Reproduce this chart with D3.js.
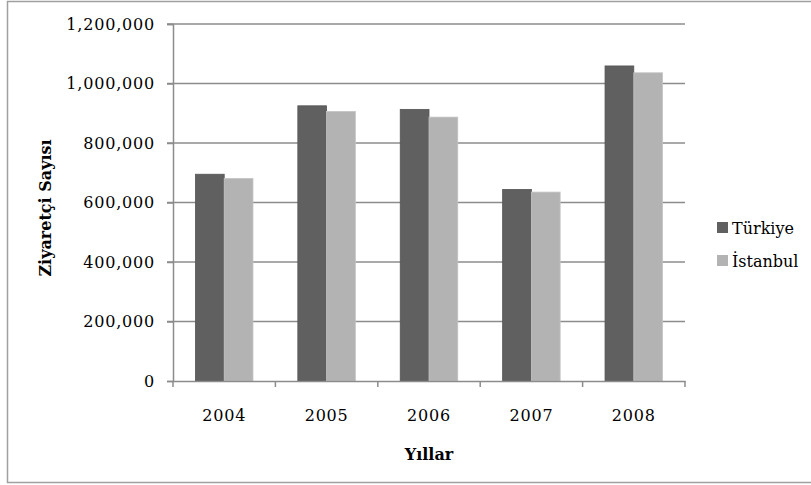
<!DOCTYPE html>
<html>
<head>
<meta charset="utf-8">
<script src="https://cdn.jsdelivr.net/npm/d3@7"></script>
<style>
  body { margin: 0; background: #fff; }
  text { font-family: "DejaVu Serif", serif; fill: #000; }
</style>
</head>
<body>
<div id="chart"></div>
<script>
const years = ['2004', '2005', '2006', '2007', '2008'];
const seriesNames = ['Türkiye', 'İstanbul'];
const turkiye = [695000, 925000, 913000, 644000, 1059000];
const istanbul = [681000, 906000, 887000, 635000, 1036000];
const yTicks = [0, 200000, 400000, 600000, 800000, 1000000, 1200000];
const colours = ['#606060', '#b3b3b3'];

const width = 811;
const height = 485;
const plotLeft = 173, plotRight = 685, plotTop = 24, plotBottom = 381;

const svg = d3.select('#chart')
  .append('svg')
  .attr('width', width)
  .attr('height', height);

// outer frame
svg.append('rect')
  .attr('x', 7.5).attr('y', 1.5)
  .attr('width', 810).attr('height', 481)
  .attr('fill', 'none')
  .attr('stroke', '#a0a0a0')
  .attr('stroke-width', 1.5);

const x = d3.scaleBand().domain(years).range([plotLeft, plotRight]);
const xInner = d3.scaleBand().domain(seriesNames)
  .range([0, x.bandwidth()])
  .paddingOuter(0.78);
const y = d3.scaleLinear().domain([0, 1200000]).range([plotBottom, plotTop]);

// gridlines
svg.append('g')
  .selectAll('line')
  .data(yTicks.slice(1))
  .join('line')
  .attr('x1', plotLeft - 6).attr('x2', plotRight)
  .attr('y1', d => y(d)).attr('y2', d => y(d))
  .attr('stroke', '#8c8c8c')
  .attr('stroke-width', 1.5);

// bars
const groups = svg.append('g')
  .selectAll('g')
  .data(years.map((yr, i) => ({ yr, vals: [turkiye[i], istanbul[i]] })))
  .join('g')
  .attr('transform', d => `translate(${x(d.yr)},0)`);

groups.selectAll('rect')
  .data(d => d.vals.map((v, j) => ({ name: seriesNames[j], v, j })))
  .join('rect')
  .attr('x', d => xInner(d.name))
  .attr('width', xInner.bandwidth())
  .attr('y', d => y(d.v))
  .attr('height', d => y(0) - y(d.v))
  .attr('fill', d => colours[d.j])
  .attr('stroke', d => d.j === 0 ? '#555' : '#c4c4c4')
  .attr('stroke-width', 0.8);

// y axis
const yAxis = svg.append('g')
  .attr('transform', `translate(${plotLeft},0)`)
  .call(d3.axisLeft(y).tickValues(yTicks).tickSize(6).tickPadding(12)
    .tickFormat(d3.format(',')));
yAxis.selectAll('line, path').attr('stroke', '#8c8c8c').attr('stroke-width', 1.5);
yAxis.selectAll('text').style('font-size', '16px').attr('fill', '#000')
  .style('letter-spacing', '0.8px')
  .style('font-family', '"DejaVu Serif", serif');

// x axis
const xAxis = svg.append('g')
  .attr('transform', `translate(0,${plotBottom})`)
  .call(d3.axisBottom(x).tickSizeOuter(0).tickSize(0).tickPadding(29));
xAxis.select('path').attr('stroke', '#8c8c8c').attr('stroke-width', 1.5);
xAxis.selectAll('text').style('font-size', '16px').attr('fill', '#000')
  .style('letter-spacing', '0.8px')
  .style('font-family', '"DejaVu Serif", serif');
xAxis.selectAll('.sep')
  .data(d3.range(years.length + 1))
  .join('line')
  .attr('x1', i => plotLeft + i * x.bandwidth())
  .attr('x2', i => plotLeft + i * x.bandwidth())
  .attr('y1', 0).attr('y2', 6)
  .attr('stroke', '#8c8c8c')
  .attr('stroke-width', 1.5);

// axis titles
svg.append('text')
  .attr('transform', 'translate(51,208) rotate(-90)')
  .attr('text-anchor', 'middle')
  .style('font-size', '16px')
  .style('font-weight', 'bold')
  .text('Ziyaretçi Sayısı');

svg.append('text')
  .attr('x', (plotLeft + plotRight) / 2)
  .attr('y', 460)
  .attr('text-anchor', 'middle')
  .style('font-size', '16px')
  .style('font-weight', 'bold')
  .text('Yıllar');

// legend
const legend = svg.append('g')
  .selectAll('g')
  .data(seriesNames)
  .join('g')
  .attr('transform', (d, i) => `translate(717,${222 + i * 33})`);
legend.append('rect')
  .attr('width', 11).attr('height', 11)
  .attr('fill', (d, i) => colours[i]);
legend.append('text')
  .attr('x', 15).attr('y', 12)
  .style('font-size', '16px')
  .text(d => d);
</script>
</body>
</html>
